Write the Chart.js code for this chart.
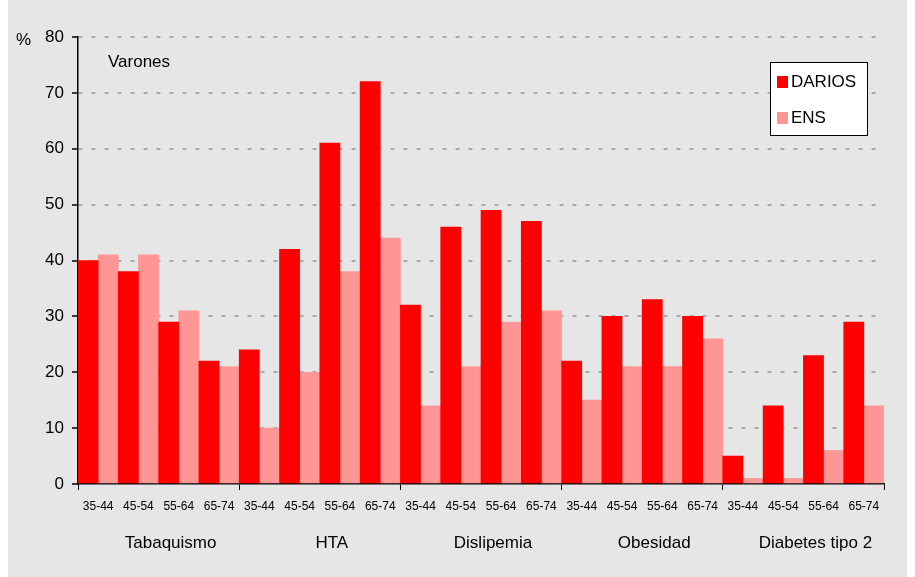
<html>

<head>
  <meta charset="utf-8">
  <style>
    html,
    body {
      margin: 0;
      padding: 0;
      background: #ffffff;
    }

    #wrap {
      width: 915px;
      height: 577px;
    }
  </style>
</head>

<body>
  <div id="wrap"><canvas id="myChart"></canvas></div>
  <script src="https://cdn.jsdelivr.net/npm/chart.js@4.4.0/dist/chart.umd.min.js"></script>
  <script type="text/javascript">
    const ages = ['35-44', '45-54', '55-64', '65-74'];
    const groups = ['Tabaquismo', 'HTA', 'Dislipemia', 'Obesidad', 'Diabetes tipo 2'];
    const darios = [40, 38, 29, 22, 24, 42, 61, 72, 32, 46, 49, 47, 22, 30, 33, 30, 5, 14, 23, 29];
    const ens = [41, 41, 31, 21, 10, 20, 38, 44, 14, 21, 29, 31, 15, 21, 21, 26, 1, 1, 6, 14];
    const yTicks = [0, 10, 20, 30, 40, 50, 60, 70, 80];

    const labels = [];
    groups.forEach(() => ages.forEach(a => labels.push(a)));

    const FONT = "'Liberation Sans Narrow', 'Liberation Sans', Arial, sans-serif";
    const RED = '#ff0000';
    const PINK = '#ff9696';

    // grey panel, group names, side texts and the boxed legend
    const decor = {
      id: 'decor',
      beforeDraw(chart) {
        const c = chart.ctx;
        c.save();
        c.fillStyle = '#e6e6e6';
        c.fillRect(8, 0, 899, chart.height);
        c.restore();
      },
      afterDraw(chart) {
        const c = chart.ctx;
        const x = chart.scales.x;
        const area = chart.chartArea;
        c.save();
        c.fillStyle = '#000';
        c.textBaseline = 'middle';
        c.font = '17px ' + FONT;
        c.textAlign = 'center';
        groups.forEach((g, i) => {
          const a = x.getPixelForValue(i * 4);
          const b = x.getPixelForValue(i * 4 + 3);
          c.fillText(g, (a + b) / 2 + 12, 543);
        });
        c.textAlign = 'left';
        c.fillText('%', 16, area.top + 3);
        c.fillText('Varones', area.left + 30, area.top + 25);

        // legend
        const lx = 770, ly = 62, lw = 97, lh = 73;
        c.fillStyle = '#fff';
        c.fillRect(lx, ly, lw, lh);
        c.strokeStyle = '#000';
        c.lineWidth = 1;
        c.strokeRect(lx + 0.5, ly + 0.5, lw, lh);
        chart.data.datasets.forEach((ds, i) => {
          const cy = ly + 20 + i * 36;
          c.fillStyle = ds.backgroundColor;
          c.fillRect(lx + 7, cy - 6, 11, 12);
          c.fillStyle = '#000';
          c.fillText(ds.label, lx + 21, cy);
        });
        c.restore();
      }
    };

    new Chart(document.getElementById('myChart'), {
      type: 'bar',
      data: {
        labels: labels,
        datasets: [
          { label: 'DARIOS', data: darios, backgroundColor: RED },
          { label: 'ENS', data: ens, backgroundColor: PINK },
        ],
      },
      plugins: [decor],
      options: {
        responsive: true,
        maintainAspectRatio: false,
        animation: false,
        layout: { padding: { left: 8, right: 31, top: 37, bottom: 0 } },
        datasets: { bar: { barPercentage: 1, categoryPercentage: 1 } },
        plugins: { legend: { display: false }, tooltip: { enabled: false } },
        scales: {
          x: {
            afterFit: s => { s.height = 93; },
            grid: {
              offset: true,
              drawOnChartArea: false,
              tickLength: 6,
              tickColor: c => (c.tick === undefined || c.index % 4 === 0) ? '#000' : 'rgba(0,0,0,0)',
            },
            border: { color: '#000', width: 1.5 },
            ticks: {
              autoSkip: false,
              maxRotation: 0,
              padding: 9,
              color: '#000',
              font: { family: FONT, size: 12 },
            },
          },
          y: {
            min: 0,
            max: 80,
            afterFit: s => { s.width = 70; },
            afterBuildTicks: s => { s.ticks = yTicks.map(v => ({ value: v })); },
            grid: {
              color: c => c.tick && c.tick.value === 0 ? 'rgba(0,0,0,0)' : '#a9a9a9',
              lineWidth: 2,
              tickColor: '#000',
              tickLength: 6,
              tickWidth: 1.5,
            },
            border: { color: '#000', width: 1.5, dash: [4, 9] },
            ticks: {
              padding: 8,
              color: '#000',
              font: { family: FONT, size: 17 },
            },
          },
        },
      },
    });
  </script>
</body>

</html>
